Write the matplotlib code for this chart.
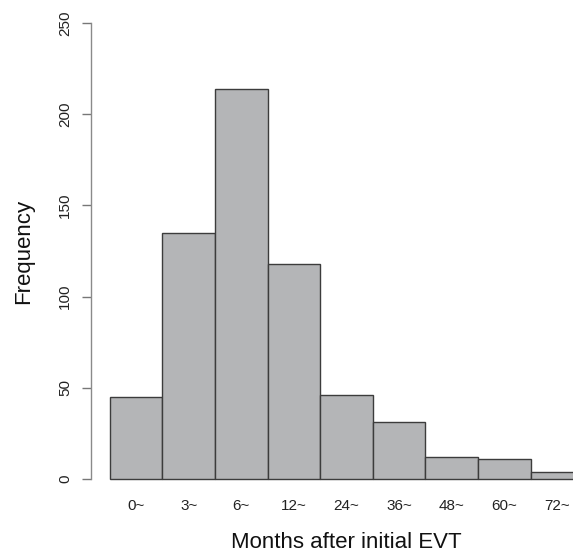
import matplotlib
matplotlib.use("Agg")
import matplotlib.pyplot as plt

# months after initial EVT, counts per interval
categories = ["0~", "3~", "6~", "12~", "24~", "36~", "48~", "60~", "72~"]
counts = [45, 135, 214, 118, 46, 31, 12, 11, 4]
y_ticks = [0, 50, 100, 150, 200, 250]

plt.rcParams["font.family"] = ["Liberation Sans", "DejaVu Sans"]

W, H = 573, 553
fig = plt.figure(figsize=(W / 100, H / 100), dpi=100)

# plot region in pixels (R barplot style, runs off the right edge)
x0, x1 = 91, 602
y0, y1 = 479, 23
ax = fig.add_axes([x0 / W, 1 - y0 / H, (x1 - x0) / W, (y0 - y1) / H])

pos = list(range(len(categories)))
ax.bar(pos, counts, width=1.0, color="#b4b5b7", edgecolor="#3c3c3c",
       linewidth=1.0, clip_on=False)

ax.set_xlim(-0.86, len(categories) - 0.14)
ax.set_ylim(0, 250)

for s in ["top", "right", "bottom"]:
    ax.spines[s].set_visible(False)
ax.spines["left"].set_bounds(0, 250)
ax.spines["left"].set_color("#8a8a8a")
ax.spines["left"].set_linewidth(1.0)

ax.set_yticks(y_ticks)
ax.set_yticklabels([str(v) for v in y_ticks], rotation=90, va="center")
ax.tick_params(axis="y", length=6.5, width=1.0, color="#777777",
               labelsize=11, labelcolor="#222222", pad=7)

ax.set_xticks(pos)
ax.set_xticklabels(categories)
ax.tick_params(axis="x", length=0, labelsize=11, labelcolor="#222222", pad=14.5)

fig.text(24 / W, 1 - 251 / H, "Frequency", rotation=90, ha="center",
         va="center", fontsize=16, color="#111111")
fig.text(346.5 / W, 1 - 548.3 / H, "Months after initial EVT", ha="center",
         va="baseline", fontsize=16, color="#111111")

fig.savefig("out.png", dpi=100)
